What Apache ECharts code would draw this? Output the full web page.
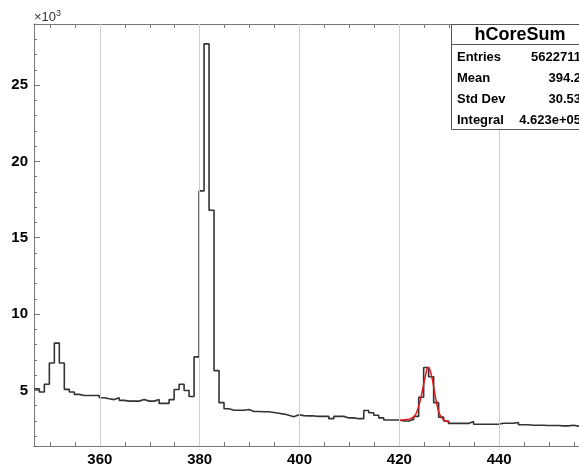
<!DOCTYPE html>
<html><head><meta charset="utf-8">
<script src="https://cdn.jsdelivr.net/npm/echarts@6/dist/echarts.min.js"></script>
<style>html,body{margin:0;padding:0;background:#fff}#c{width:579px;height:467px}</style>
</head><body><div id="c"></div>
<script>
// ---- data (counts in units of 10^3) ----
const histName = 'hCoreSum';
const binStart = 346.875;
const binWidth = 1;
const counts = [
  5.1, 4.9, 5.4, 6.8, 8.1, 6.8, 5.07, 4.9, 4.74, 4.67,
  4.67, 4.67, 4.67, 4.52, 4.45, 4.4, 4.52, 4.35, 4.3, 4.3,
  4.3, 4.4, 4.3, 4.3, 4.4, 4.15, 4.15, 4.4, 5.06, 5.4,
  5.0, 4.6, 7.2, 18.07, 27.7, 16.8, 6.3, 4.2, 3.8, 3.7,
  3.7, 3.7, 3.75, 3.62, 3.62, 3.6, 3.6, 3.55, 3.5, 3.45,
  3.37, 3.28, 3.4, 3.35, 3.33, 3.33, 3.3, 3.3, 3.3, 3.15,
  3.3, 3.3, 3.2, 3.2, 3.15, 3.15, 3.69, 3.54, 3.37, 3.2,
  3.06, 3.06, 3.06, 3.0, 3.0, 3.1, 3.3, 4.55, 6.5, 5.9,
  4.2, 3.25, 3.0, 2.84, 2.84, 2.84, 2.84, 2.97, 2.78, 2.78,
  2.78, 2.78, 2.78, 2.85, 2.85, 2.85, 2.9, 2.75, 2.75, 2.72,
  2.72, 2.72, 2.7, 2.7, 2.7, 2.68, 2.68, 2.72, 2.66, 2.65,
  2.65, 2.64, 2.64
];
const fitX = [420.0, 421.0, 422.0, 423.0, 423.5, 424.0, 424.5, 425.0, 425.4, 425.7, 426.0, 426.5, 427.0, 427.5, 428.0, 428.5, 429.0, 429.5, 430.0];
const fitY = [3.05, 3.08, 3.12, 3.3, 3.6, 4.1, 4.8, 5.6, 6.2, 6.5, 6.45, 5.9, 5.0, 4.1, 3.5, 3.2, 3.05, 2.98, 2.92];
const xMajorTicks = [360, 380, 400, 420, 440];
const xMinorTicks = [350, 355, 365, 370, 375, 385, 390, 395, 405, 410, 415, 425, 430, 435, 445, 450, 455];
const yMajorTicks = [5, 10, 15, 20, 25];
const yMinorTicks = [2, 3, 4, 6, 7, 8, 9, 11, 12, 13, 14, 16, 17, 18, 19, 21, 22, 23, 24, 26, 27, 28, 29];
const statLabels = ['Entries', 'Mean', 'Std Dev', 'Integral'];
const statValues = ['5622711', '394.2', '30.53', '4.623e+05'];

const X_MIN = 346.8, X_MAX = 456.0, Y_MIN = 1.36, Y_MAX = 29.0;
const FONT = 'Liberation Sans, Arial, Helvetica, sans-serif';
const AX = '#777';

// histogram outline points built from bins
const histPts = [];
counts.forEach((v, i) => {
  const lo = binStart + i * binWidth;
  histPts.push([lo, v], [lo + binWidth, v]);
});
const fitPts = fitX.map((x, i) => [x, fitY[i]]);

function xAx(pos, major) {
  return {
    type: 'value', position: pos, min: X_MIN, max: X_MAX, gridIndex: 0,
    axisLine: { show: major, onZero: false, lineStyle: { color: AX, width: 1 } },
    axisTick: { show: true, inside: true, length: major ? 7 : 4,
      customValues: major ? xMajorTicks : xMinorTicks, lineStyle: { color: AX } },
    axisLabel: (major && pos === 'bottom') ? { show: true, customValues: xMajorTicks, margin: 6,
      fontSize: 15, fontWeight: 'bold', color: '#000', fontFamily: FONT } : { show: false },
    splitLine: { show: false }
  };
}
function yAx(major) {
  return {
    type: 'value', position: 'left', min: Y_MIN, max: Y_MAX, gridIndex: 0,
    axisLine: { show: major, onZero: false, lineStyle: { color: AX, width: 1 } },
    axisTick: { show: true, inside: true, length: major ? 6 : 3,
      customValues: major ? yMajorTicks : yMinorTicks, lineStyle: { color: AX } },
    axisLabel: major ? { show: true, customValues: yMajorTicks, margin: 6,
      fontSize: 15, fontWeight: 'bold', color: '#000', fontFamily: FONT } : { show: false },
    splitLine: { show: false }
  };
}

const chart = echarts.init(document.getElementById('c'), null, { renderer: 'canvas' });

const boxL = 451, boxR = 589, boxT = 24, boxB = 129, sepY = 44.5;
const rowY = [57, 78, 99, 120];
const statGraphics = [
  { type: 'rect', shape: { x: boxL + 0.5, y: boxT + 0.5, width: boxR - boxL, height: boxB - boxT },
    style: { fill: '#fff', stroke: '#555', lineWidth: 1 }, z: 100 },
  { type: 'line', shape: { x1: boxL, y1: sepY, x2: boxR, y2: sepY },
    style: { stroke: '#555', lineWidth: 1 }, z: 101 },
  { type: 'text', x: (boxL + boxR) / 2, y: 35, z: 101,
    style: { text: histName, fontSize: 18, fontWeight: 'bold', fontFamily: FONT, fill: '#000',
      align: 'center', verticalAlign: 'middle' } }
];
statLabels.forEach((lab, i) => {
  statGraphics.push({ type: 'text', x: 457, y: rowY[i], z: 101,
    style: { text: lab, fontSize: 13, fontWeight: 'bold', fontFamily: FONT, fill: '#000',
      align: 'left', verticalAlign: 'middle' } });
  statGraphics.push({ type: 'text', x: 581, y: rowY[i], z: 101,
    style: { text: statValues[i], fontSize: 13, fontWeight: 'bold', fontFamily: FONT, fill: '#000',
      align: 'right', verticalAlign: 'middle' } });
});

chart.setOption({
  animation: false,
  backgroundColor: '#fff',
  grid: { left: 34, top: 24, right: 0, bottom: 20, containLabel: false },
  xAxis: [xAx('bottom', true), xAx('bottom', false), xAx('top', true), xAx('top', false)],
  yAxis: [yAx(true), yAx(false)],
  series: [
    { type: 'line', name: 'grid', data: [], xAxisIndex: 0, yAxisIndex: 0, z: 1,
      markLine: { silent: true, symbol: ['none', 'none'], label: { show: false },
        lineStyle: { color: '#cfcfcf', type: 'solid', width: 1 },
        animation: false,
        data: xMajorTicks.map(v => ({ xAxis: v })) } },
    { type: 'line', name: histName, data: histPts, xAxisIndex: 0, yAxisIndex: 0,
      showSymbol: false, symbol: 'none', z: 3, clip: true,
      lineStyle: { color: '#333', width: 1.6 } },
    { type: 'line', name: 'fit', data: fitPts, xAxisIndex: 0, yAxisIndex: 0,
      showSymbol: false, symbol: 'none', smooth: 0.4, z: 4,
      lineStyle: { color: '#e3171c', width: 1.5 } }
  ],
  graphic: [
    { type: 'text', left: 34, top: 9, z: 50,
      style: { text: '{a|×10}{b|3}', fontFamily: FONT, fill: '#333',
        rich: { a: { fontSize: 13, fill: '#333', fontFamily: FONT },
                b: { fontSize: 9, fill: '#333', fontFamily: FONT, verticalAlign: 'top', padding: [0, 0, 7, 0] } } } },
    ...statGraphics
  ]
});
</script>
</body></html>
